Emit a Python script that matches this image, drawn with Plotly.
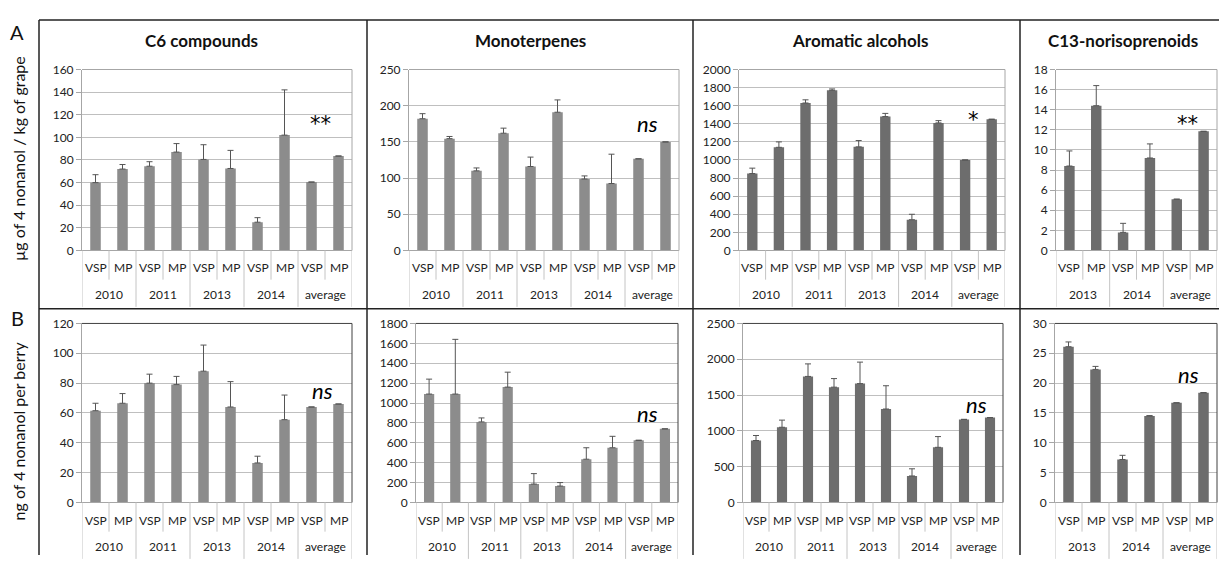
import plotly.graph_objects as go

W, H = 1227, 562
OFF = 8  # default page body margin

# ---------------- data ----------------
years_all = ["2010", "2011", "2013", "2014", "average"]
years_c13 = ["2013", "2014", "average"]
treatments = ["VSP", "MP"]

# Row A: µg of 4 nonanol / kg of grape
c6_grape = [60, 72, 74.5, 87, 80.5, 72.5, 25, 102, 60.5, 83.5]
c6_grape_err = [7, 4, 4, 7.5, 13, 16, 4, 40, None, None]
mono_grape = [182, 154.5, 110, 162, 116, 191, 98.7, 92.5, 126.6, 150]
mono_grape_err = [7, 3, 4, 7, 13, 17, 4.3, 40.5, None, None]
arom_grape = [850, 1140, 1630, 1770, 1145, 1480, 340, 1410, 1000, 1450]
arom_grape_err = [60, 60, 35, 15, 70, 35, 60, 25, None, None]
c13_grape = [8.4, 14.4, 1.8, 9.2, 5.1, 11.85]
c13_grape_err = [1.5, 2.0, 0.9, 1.4, None, None]

# Row B: ng of 4 nonanol per berry
c6_berry = [61.5, 66.5, 80, 79, 88, 64, 26.5, 55.5, 64, 66]
c6_berry_err = [5, 6.5, 6, 5.5, 17.5, 17, 4.5, 16.5, None, None]
mono_berry = [1090, 1090, 810, 1160, 185, 165, 435, 550, 625, 740]
mono_berry_err = [150, 550, 40, 150, 105, 35, 115, 115, None, None]
arom_berry = [865, 1050, 1760, 1610, 1660, 1305, 370, 770, 1160, 1185]
arom_berry_err = [70, 100, 175, 120, 300, 325, 100, 150, None, None]
c13_berry = [26.1, 22.3, 7.2, 14.5, 16.7, 18.4]
c13_berry_err = [0.8, 0.5, 0.7, 0.05, None, None]

titles = ["C6 compounds", "Monoterpenes", "Aromatic alcohols", "C13-norisoprenoids"]
sig_grape = ["**", "ns", "*", "**"]
sig_grape_y = [112, 176, 1440, 12.6]
sig_berry = ["ns", "ns", "ns", "ns"]
sig_berry_y = [75, 890, 1372, 21.4]
ymax_grape = [160, 250, 2000, 18]
dtick_grape = [20, 50, 200, 2]
ymax_berry = [120, 1800, 2500, 30]
dtick_berry = [20, 200, 500, 5]

# --------------- layout geometry (pixels) ---------------
light = "#8c8c8c"
dark = "#6d6d6d"
panels = [
    # row, x0, x1, values, errs, years, ymax, dtick, color, sig, sig_x, sig_y
    ("A", 82, 352, c6_grape, c6_grape_err, years_all, ymax_grape[0], dtick_grape[0], light, sig_grape[0], 8.35, sig_grape_y[0]),
    ("A", 409, 679, mono_grape, mono_grape_err, years_all, ymax_grape[1], dtick_grape[1], light, sig_grape[1], 8.35, sig_grape_y[1]),
    ("A", 739, 1005, arom_grape, arom_grape_err, years_all, ymax_grape[2], dtick_grape[2], dark, sig_grape[2], 8.3, sig_grape_y[2]),
    ("A", 1056, 1217, c13_grape, c13_grape_err, years_c13, ymax_grape[3], dtick_grape[3], dark, sig_grape[3], 4.4, sig_grape_y[3]),
    ("B", 82, 352, c6_berry, c6_berry_err, years_all, ymax_berry[0], dtick_berry[0], light, sig_berry[0], 8.4, sig_berry_y[0]),
    ("B", 416, 678, mono_berry, mono_berry_err, years_all, ymax_berry[1], dtick_berry[1], light, sig_berry[1], 8.35, sig_berry_y[1]),
    ("B", 743, 1003, arom_berry, arom_berry_err, years_all, ymax_berry[2], dtick_berry[2], dark, sig_berry[2], 8.5, sig_berry_y[2]),
    ("B", 1055, 1217, c13_berry, c13_berry_err, years_c13, ymax_berry[3], dtick_berry[3], dark, sig_berry[3], 4.43, sig_berry_y[3]),
]
row_y = {"A": (63, 249), "B": (324, 508)}
row_lab = {"A": (267, 294), "B": (527, 553)}

FONT = "Lato, 'Open Sans', sans-serif"
STAR_FONT = "'DejaVu Sans', sans-serif"
FW, FH = W - OFF, H - OFF
fig = go.Figure()
shapes = []
annotations = []


def px_x(p):
    return (p - OFF) / FW


def px_y(p):
    return 1 - (p - OFF) / FH


def ann(**kw):
    kw.setdefault("xanchor", "center")
    kw.setdefault("yanchor", "middle")
    kw.setdefault("showarrow", False)
    annotations.append(kw)


for i, (row, x0, x1, vals, errs, yrs, ymax, dtick, col, sig, sx, sy) in enumerate(panels, start=1):
    sfx = "" if i == 1 else str(i)
    xa, ya = f"x{sfx}", f"y{sfx}"
    n = len(vals)
    xs = list(range(n))
    fig.add_trace(go.Bar(
        x=xs, y=vals, width=0.39, marker=dict(color=col, line=dict(width=0)),
        error_y=dict(type="data", array=list(errs), arrayminus=[0] * n, symmetric=False,
                     color="#555555", thickness=1, width=3),
        xaxis=xa, yaxis=ya, showlegend=False, hoverinfo="skip",
    ))
    y0p, y1p = row_y[row]
    border = "#a6a6a6" if row == "A" else "#404040"
    fig.layout[f"xaxis{sfx}"] = dict(
        domain=[px_x(x0), px_x(x1)], anchor=ya, range=[-0.5, n - 0.5],
        showticklabels=False, showgrid=False, zeroline=False, ticks="",
        showline=True, linecolor="#a6a6a6", linewidth=1, fixedrange=True,
    )
    fig.layout[f"yaxis{sfx}"] = dict(
        domain=[px_y(y1p), px_y(y0p)], anchor=xa, range=[0, ymax], dtick=dtick,
        showgrid=True, gridcolor="#bfbfbf", gridwidth=1, zeroline=False,
        showline=True, linecolor="#a6a6a6", linewidth=1, ticks="outside", ticklen=5,
        tickcolor="#a6a6a6", tickfont=dict(family=FONT, size=12, color="#222222"),
        fixedrange=True,
    )
    # plot-area border (top + right)
    shapes.append(dict(type="line", xref=f"{xa} domain", yref=f"{ya} domain", x0=0, x1=1, y0=1, y1=1,
                       line=dict(color=border, width=1)))
    shapes.append(dict(type="line", xref=f"{xa} domain", yref=f"{ya} domain", x0=1, x1=1, y0=0, y1=1,
                       line=dict(color=border, width=1)))
    # category separator lines
    hpx = y1p - y0p
    short = -30 / hpx
    long_ = -58 / hpx
    for k in range(n + 1):
        xv = k - 0.5
        yb = long_ if k % 2 == 0 else short
        shapes.append(dict(type="line", xref=xa, yref=f"{ya} domain", x0=xv, x1=xv, y0=0, y1=yb,
                           line=dict(color="#c4c4c4", width=1)))
    vlab, ylab = row_lab[row]
    for k in range(n):
        ann(x=k, y=px_y(vlab), xref=xa, yref="paper", text=treatments[k % 2],
            font=dict(family=FONT, size=12, color="#222222"))
    for g, yr in enumerate(yrs):
        ann(x=2 * g + 0.5, y=px_y(ylab), xref=xa, yref="paper", text=yr,
            font=dict(family=FONT, size=12, color="#222222"))
    # significance
    if sig == "ns":
        ann(x=sx, y=sy, xref=xa, yref=ya, text="<i>ns</i>",
            font=dict(family=FONT, size=22, color="#000000"))
    else:
        ann(x=sx, y=sy, xref=xa, yref=ya, text=sig,
            font=dict(family=STAR_FONT, size=21, color="#000000"))
    if row == "A":
        cx = [201, 530, 860, 1123][i - 1]
        ann(x=px_x(cx), y=px_y(33), xref="paper", yref="paper",
            text=f"<b>{titles[i - 1]}</b>", font=dict(family=FONT, size=17, color="#111111"))

# outer frame lines
frame = "#222222"
for (xa_, ya_, xb_, yb_) in [(39, 12, 1227, 12), (39, 309, 1227, 309), (39, 12, 39, 562),
                             (367, 12, 367, 562), (693, 12, 693, 562), (1020, 12, 1020, 562),
                             (1225, 12, 1225, 562)]:
    shapes.append(dict(type="line", xref="paper", yref="paper", x0=px_x(xa_), x1=px_x(xb_),
                       y0=px_y(ya_), y1=px_y(yb_), line=dict(color=frame, width=1.5)))

ann(x=px_x(17), y=px_y(24), xref="paper", yref="paper", text="A",
    font=dict(family=FONT, size=20, color="#111111"))
ann(x=px_x(17), y=px_y(318), xref="paper", yref="paper", text="B",
    font=dict(family=FONT, size=20, color="#111111"))
ann(x=px_x(18), y=px_y(155), xref="paper", yref="paper",
    text="µg of 4 nonanol / kg of grape", textangle=-90,
    font=dict(family=FONT, size=16, color="#111111"))
ann(x=px_x(18), y=px_y(435), xref="paper", yref="paper",
    text="ng of 4 nonanol per berry", textangle=-90,
    font=dict(family=FONT, size=16, color="#111111"))

fig.update_layout(width=FW, height=FH, margin=dict(l=0, r=0, t=0, b=0),
                  paper_bgcolor="white", plot_bgcolor="white", shapes=shapes,
                  annotations=annotations, bargap=0.56)
fig.write_html("out.html")
